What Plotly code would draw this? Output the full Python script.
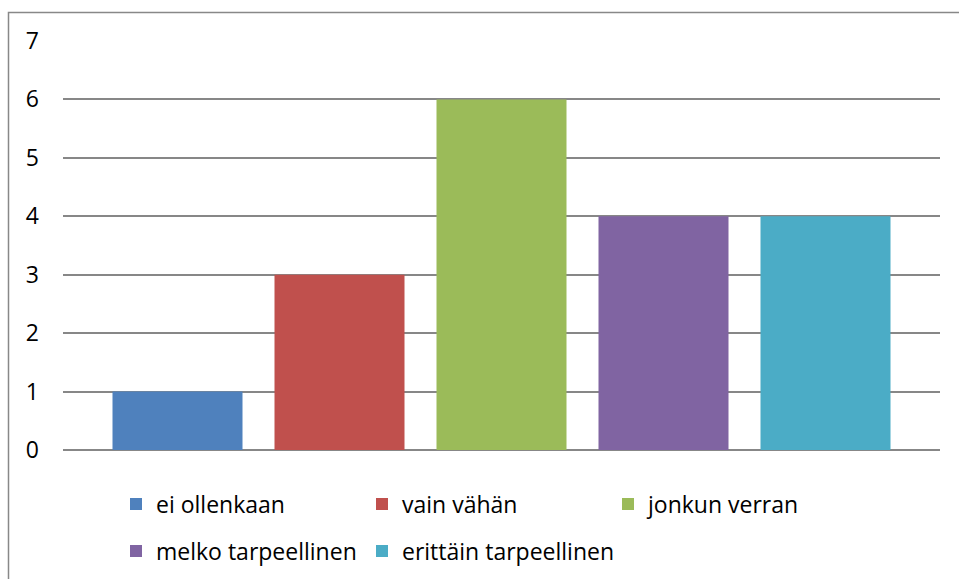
import plotly.graph_objects as go

series = ["ei ollenkaan", "vain vähän", "jonkun verran", "melko tarpeellinen", "erittäin tarpeellinen"]
values = [1, 3, 6, 4, 4]
colors = ["#4F81BD", "#C0504D", "#9BBB59", "#8064A2", "#4BACC6"]
legend_ids = ["legend", "legend2", "legend3", "legend4", "legend5"]
category = ["Sarja"]
y_ticks = [0, 1, 2, 3, 4, 5, 6, 7]

fig = go.Figure()
for name, v, c, lg in zip(series, values, colors, legend_ids):
    fig.add_trace(go.Bar(x=category, y=[v], name=name, legend=lg,
                         marker=dict(color=c, line=dict(width=0))))

W, H = 959, 579
L, R, T, B = 63, 19, 41, 129
pw = W - L - R
ph = H - T - B

FONT = "Open Sans, Lato, Liberation Sans, sans-serif"
leg_common = dict(orientation="h", xanchor="left", yanchor="middle",
                  font=dict(size=23, family=FONT),
                  itemwidth=30, tracegroupgap=0, bgcolor="rgba(0,0,0,0)")

# legend slot positions (column left px, row centre px)
col_px = [116, 362, 608]
row_px = [504, 551]
slots = [(0, 0), (1, 0), (2, 0), (0, 1), (1, 1)]

legends = {}
for lg, (ci, ri) in zip(legend_ids, slots):
    legends[lg] = dict(x=(col_px[ci] - L) / pw, y=(450 - row_px[ri]) / ph, **leg_common)

fig.update_layout(
    width=W, height=H,
    margin=dict(l=L, r=R, t=T, b=B, pad=0, autoexpand=False),
    paper_bgcolor="white", plot_bgcolor="white",
    barmode="group", bargap=0.0764, bargroupgap=0.1975,
    font=dict(family=FONT, size=23, color="#000000"),
    showlegend=True,
    xaxis=dict(showticklabels=False, showgrid=False, zeroline=False, showline=False, ticks=""),
    yaxis=dict(range=[0, 7], tickvals=y_ticks, showgrid=True, gridcolor="#878787", gridwidth=1.5,
               zeroline=True, zerolinecolor="#878787", zerolinewidth=1.5, showline=False,
               ticks="", ticklabelstandoff=23, tickfont=dict(size=23, family=FONT)),
    **legends,
)

fig.add_shape(type="rect", xref="paper", yref="paper",
              x0=(8.5 - L) / pw, x1=(W + 20 - L) / pw,
              y0=(450 - (H + 20)) / ph, y1=(450 - 12.5) / ph,
              line=dict(color="#888888", width=1.5), fillcolor="rgba(0,0,0,0)", layer="below")

fig.write_html("out.html")
